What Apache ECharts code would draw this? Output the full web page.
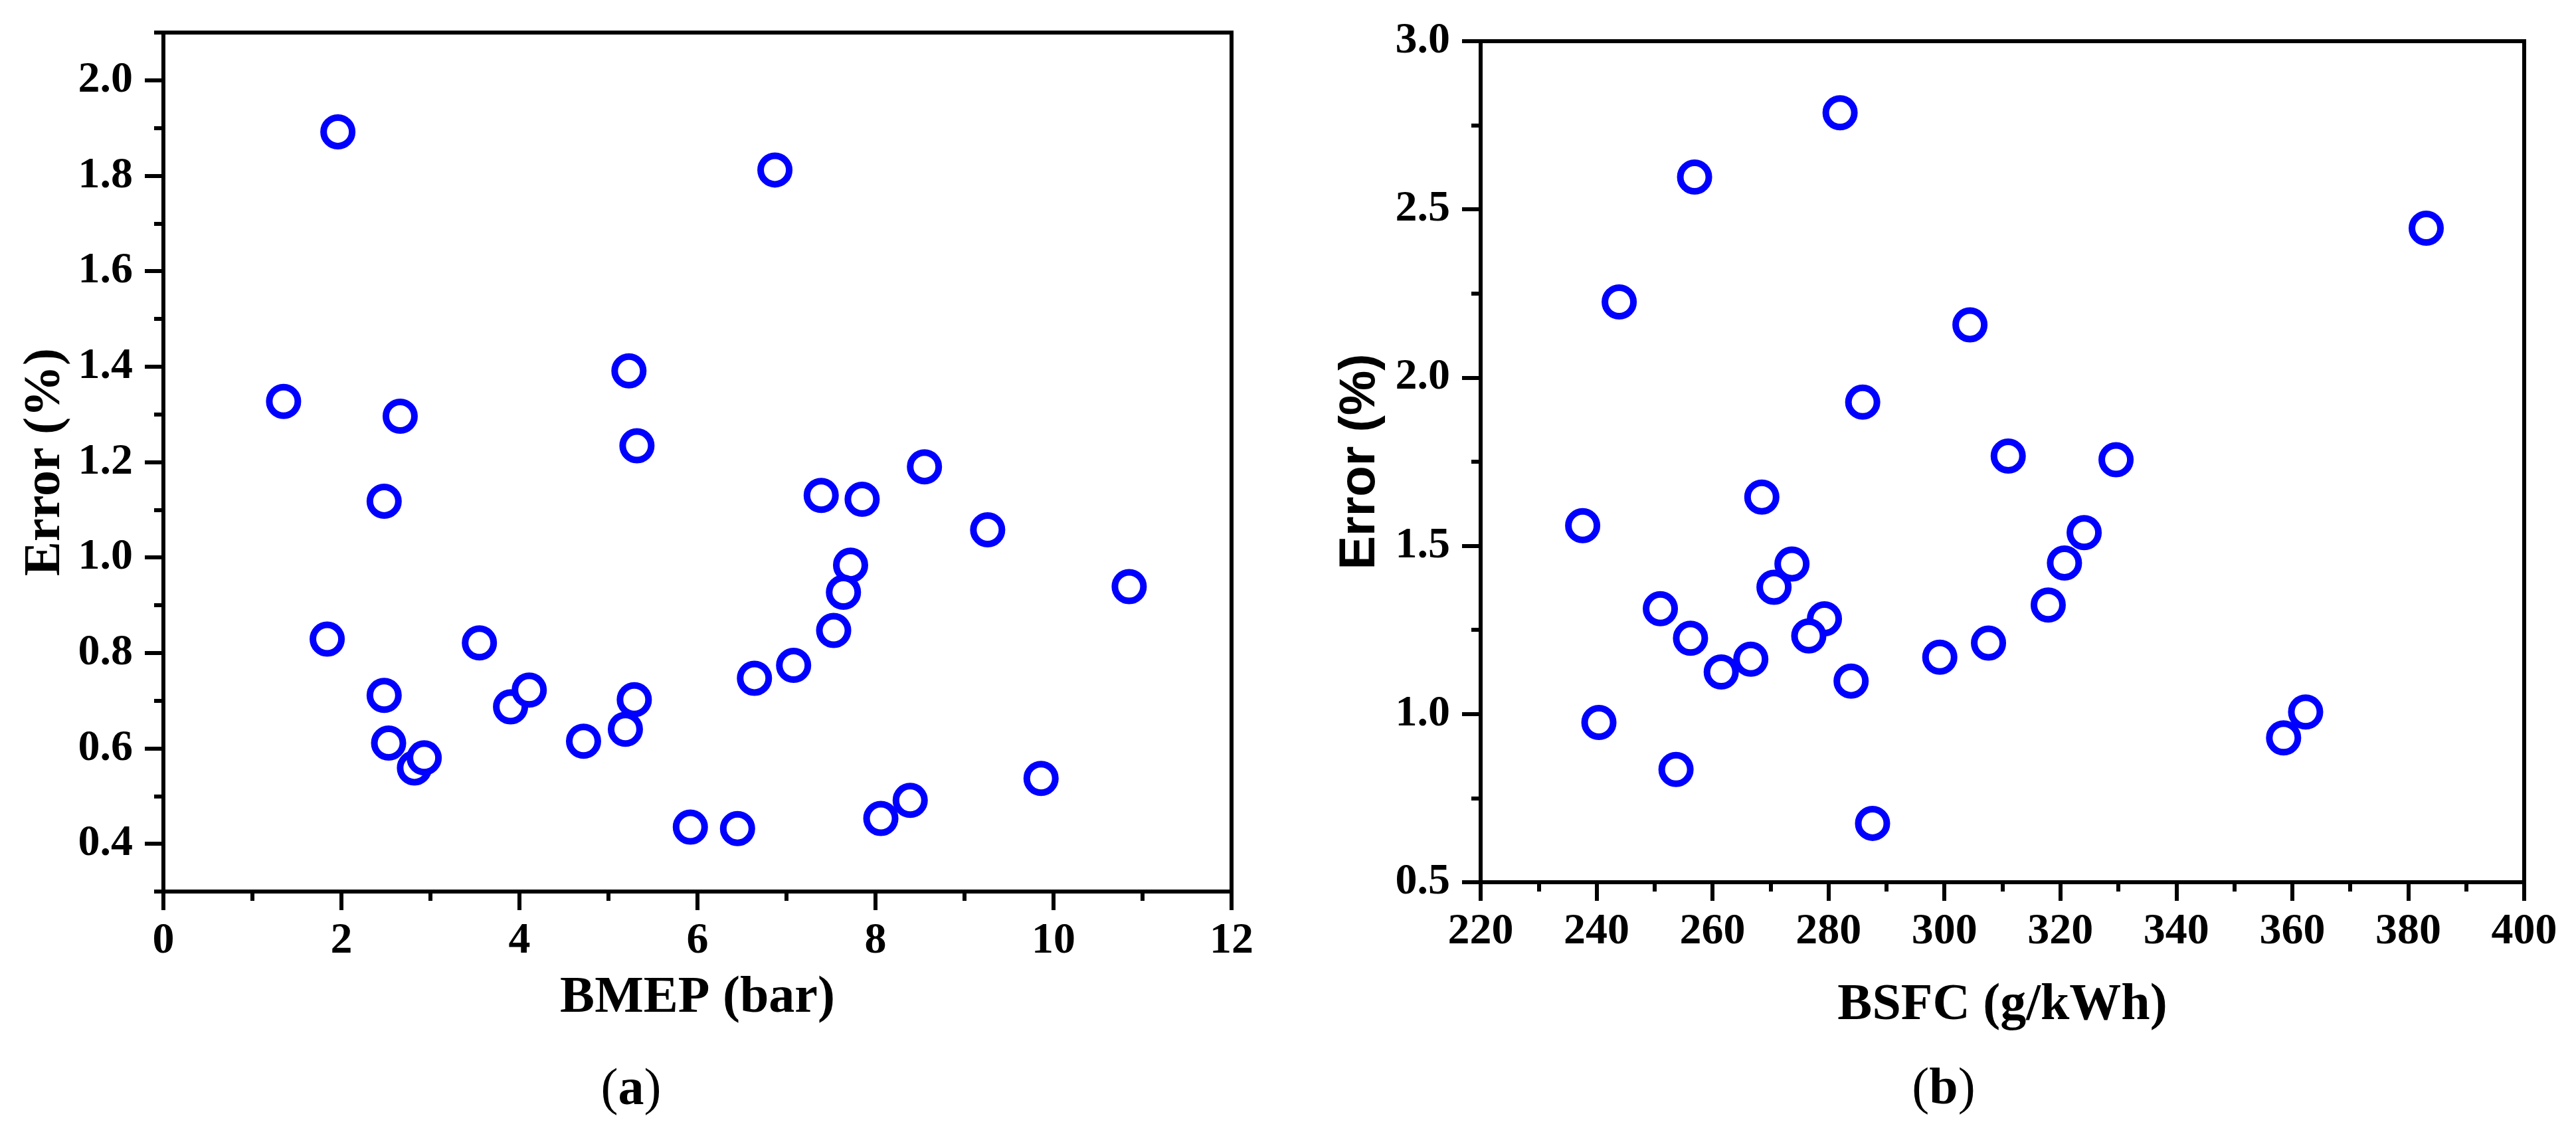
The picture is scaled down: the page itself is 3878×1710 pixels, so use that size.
<!DOCTYPE html>
<html>
<head>
<meta charset="utf-8">
<script src="https://cdn.jsdelivr.net/npm/echarts@6/dist/echarts.min.js"></script>
<style>
html, body { margin: 0; padding: 0; background: #fff; }
#chart { width: 3878px; height: 1710px; }
</style>
</head>
<body>
<div id="chart"></div>
<script>
// (a) error vs BMEP
const bmep = [1.96, 6.87, 1.35, 2.66, 5.23, 5.32, 2.48, 7.39, 7.85, 8.55, 9.26, 10.85, 7.72, 7.64, 7.53, 7.08, 6.64,
	1.84, 3.55, 2.48, 3.90, 4.11, 5.29, 5.19, 4.72, 2.53, 2.82, 2.93, 5.92, 6.45, 8.06, 8.39, 9.86];
const errorA = [1.892, 1.812, 1.327, 1.296, 1.391, 1.234, 1.118, 1.130, 1.122, 1.190, 1.058, 0.939, 0.984, 0.927, 0.847, 0.774, 0.747,
	0.829, 0.821, 0.711, 0.687, 0.722, 0.702, 0.640, 0.615, 0.611, 0.559, 0.580, 0.435, 0.432, 0.453, 0.491, 0.537];

// (b) error vs BSFC
const bsfc = [282.0, 256.9, 383.1, 243.9, 304.4, 285.9, 311.0, 329.6, 268.5, 237.6, 324.1, 320.7, 273.7, 270.6, 251.0,
	317.9, 279.3, 276.6, 256.2, 307.6, 299.2, 266.6, 261.5, 283.9, 240.4, 362.3, 358.5, 253.7, 287.6];
const errorB = [2.787, 2.596, 2.444, 2.225, 2.157, 1.927, 1.767, 1.756, 1.645, 1.560, 1.539, 1.449, 1.446, 1.377, 1.313,
	1.324, 1.283, 1.232, 1.225, 1.211, 1.169, 1.163, 1.125, 1.098, 0.975, 1.006, 0.929, 0.835, 0.675];

// labelled ticks on the (a) error axis
const yMajorA = [0.4, 0.6, 0.8, 1.0, 1.2, 1.4, 1.6, 1.8, 2.0];

const serif = "Liberation Serif";
const sans = "Liberation Sans";

const line = { color: "#000", width: 6 };
const tickLabel = { color: "#000", fontFamily: serif, fontWeight: "bold", fontSize: 66 };
const titleSerif = { color: "#000", fontFamily: serif, fontWeight: "bold", fontSize: 78 };

const chart = echarts.init(document.getElementById("chart"));

chart.setOption({
	animation: false,
	grid: [
		{ left: 246, top: 49, right: 2024, bottom: 368, show: true, borderColor: "#000", borderWidth: 6 },
		{ left: 2229, top: 62, right: 78, bottom: 382, show: true, borderColor: "#000", borderWidth: 6 }
	],
	xAxis: [
		{
			gridIndex: 0,
			type: "value",
			min: 0,
			max: 12,
			interval: 2,
			axisLine: { show: true, onZero: false, lineStyle: line },
			axisTick: { length: 28, lineStyle: line },
			minorTick: { show: true, splitNumber: 2, length: 14, lineStyle: line },
			splitLine: { show: false },
			axisLabel: Object.assign({ margin: 42 }, tickLabel),
			name: "BMEP (bar)",
			nameLocation: "middle",
			nameGap: 122,
			nameTextStyle: titleSerif
		},
		{
			gridIndex: 1,
			type: "value",
			min: 220,
			max: 400,
			interval: 20,
			axisLine: { show: true, onZero: false, lineStyle: line },
			axisTick: { length: 28, lineStyle: line },
			minorTick: { show: true, splitNumber: 2, length: 14, lineStyle: line },
			splitLine: { show: false },
			axisLabel: Object.assign({ margin: 42 }, tickLabel),
			name: "BSFC (g/kWh)",
			nameLocation: "middle",
			nameGap: 147,
			nameTextStyle: titleSerif
		}
	],
	yAxis: [
		{
			gridIndex: 0,
			type: "value",
			min: 0.3,
			max: 2.1,
			interval: 0.1,
			axisLine: { show: true, onZero: false, lineStyle: line },
			axisTick: { length: 14, lineStyle: line },
			splitLine: { show: false },
			axisLabel: Object.assign({
				margin: 46,
				customValues: yMajorA,
				formatter: v => v.toFixed(1)
			}, tickLabel),
			name: "Error (%)",
			nameLocation: "middle",
			nameGap: 138,
			nameTextStyle: titleSerif
		},
		{
			// long ticks at the labelled values
			gridIndex: 0,
			type: "value",
			position: "left",
			min: 0.3,
			max: 2.1,
			interval: 0.1,
			axisLine: { show: false },
			axisTick: { length: 28, lineStyle: line, customValues: yMajorA },
			axisLabel: { show: false },
			splitLine: { show: false }
		},
		{
			gridIndex: 1,
			type: "value",
			min: 0.5,
			max: 3.0,
			interval: 0.5,
			axisLine: { show: true, onZero: false, lineStyle: line },
			axisTick: { length: 28, lineStyle: line },
			minorTick: { show: true, splitNumber: 2, length: 14, lineStyle: line },
			splitLine: { show: false },
			axisLabel: Object.assign({ margin: 46, formatter: v => v.toFixed(1) }, tickLabel),
			name: "Error (%)",
			nameLocation: "middle",
			nameGap: 143,
			nameTextStyle: { color: "#000", fontFamily: sans, fontWeight: "bold", fontSize: 76 }
		}
	],
	series: [
		{
			type: "scatter",
			xAxisIndex: 0,
			yAxisIndex: 0,
			symbol: "circle",
			symbolSize: 43,
			itemStyle: { color: "#fff", borderColor: "#0000ff", borderWidth: 10, opacity: 1 },
			data: bmep.map((x, i) => [x, errorA[i]])
		},
		{
			type: "scatter",
			xAxisIndex: 1,
			yAxisIndex: 2,
			symbol: "circle",
			symbolSize: 43,
			itemStyle: { color: "#fff", borderColor: "#0000ff", borderWidth: 10, opacity: 1 },
			data: bsfc.map((x, i) => [x, errorB[i]])
		}
	],
	graphic: [
		{
			type: "text",
			x: 950,
			y: 1642,
			style: {
				text: "{r|(}{b|a}{r|)}",
				align: "center",
				verticalAlign: "middle",
				rich: {
					r: { fontFamily: serif, fontSize: 78, fill: "#000" },
					b: { fontFamily: serif, fontSize: 78, fontWeight: "bold", fill: "#000" }
				}
			}
		},
		{
			type: "text",
			x: 2926,
			y: 1641,
			style: {
				text: "{r|(}{b|b}{r|)}",
				align: "center",
				verticalAlign: "middle",
				rich: {
					r: { fontFamily: serif, fontSize: 78, fill: "#000" },
					b: { fontFamily: serif, fontSize: 78, fontWeight: "bold", fill: "#000" }
				}
			}
		}
	]
});

window.addEventListener("resize", () => chart.resize());
</script>
</body>
</html>
